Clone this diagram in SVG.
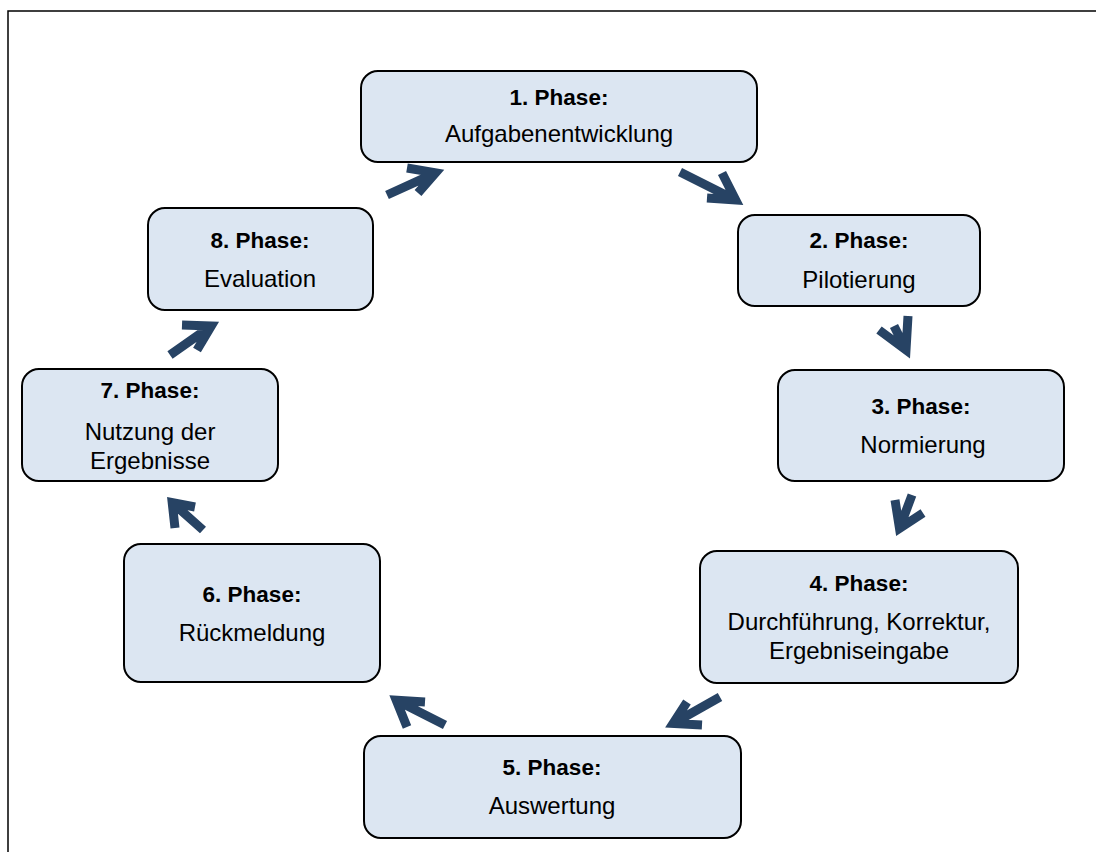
<svg xmlns="http://www.w3.org/2000/svg" width="1096" height="852" viewBox="0 0 1096 852">
  <style>
    .box { fill: #DCE6F2; stroke: #000000; stroke-width: 2; }
    .title { font-family: "Liberation Sans", Arial, sans-serif; font-size: 22.5px; font-weight: bold; fill: #000000; text-anchor: middle; }
    .body { font-family: "Liberation Sans", Arial, sans-serif; font-size: 24px; fill: #000000; text-anchor: middle; }
    .arrow { fill: none; stroke: #274364; stroke-width: 9; stroke-linejoin: miter; stroke-linecap: butt; stroke-miterlimit: 10; }
    .frame { fill: none; stroke: #000000; stroke-width: 1.5; }
  </style>

  <rect width="1096" height="852" fill="#FFFFFF"/>
  <path class="frame" d="M8,852 V11 H1096"/>

  <!-- Cycle connectors: open chevron arrows -->
  <g id="connectors">
    <path class="arrow" d="M707,198 L735.7,199.9 L722,173 M735.7,199.9 L680,172"/>
    <path class="arrow" d="M879,330 L906,350 L908,316 M906,350 L894,326"/>
    <path class="arrow" d="M895,500 L899.5,528.4 L923,513 M899.5,528.4 L912,495"/>
    <path class="arrow" d="M687,702 L673.1,723.5 L702,725 M673.1,723.5 L720,697"/>
    <path class="arrow" d="M425,702 L396.2,700.2 L407,727 M396.2,700.2 L445,725"/>
    <path class="arrow" d="M195,507 L172.2,502.6 L175,528 M172.2,502.6 L203,530"/>
    <path class="arrow" d="M182,325 L211.3,326 L197,350 M211.3,326 L170,355"/>
    <path class="arrow" d="M407,168 L435.6,172.9 L418,193 M435.6,172.9 L387,195"/>
  </g>

  <g id="phase1">
    <rect class="box" x="361" y="71" width="396" height="91" rx="17"/>
    <text class="title" x="559" y="105">1. Phase:</text>
    <text class="body" x="559" y="142">Aufgabenentwicklung</text>
  </g>

  <g id="phase2">
    <rect class="box" x="738" y="215" width="242" height="91" rx="17"/>
    <text class="title" x="859" y="248">2. Phase:</text>
    <text class="body" x="859" y="288">Pilotierung</text>
  </g>

  <g id="phase3">
    <rect class="box" x="778" y="370" width="286" height="111" rx="17"/>
    <text class="title" x="921" y="414">3. Phase:</text>
    <text class="body" x="923" y="453">Normierung</text>
  </g>

  <g id="phase4">
    <rect class="box" x="700" y="551" width="318" height="132" rx="17"/>
    <text class="title" x="859" y="591">4. Phase:</text>
    <text class="body" x="859" y="630">Durchführung, Korrektur,</text>
    <text class="body" x="859" y="659">Ergebniseingabe</text>
  </g>

  <g id="phase5">
    <rect class="box" x="364" y="736" width="377" height="102" rx="17"/>
    <text class="title" x="552" y="775">5. Phase:</text>
    <text class="body" x="552" y="814">Auswertung</text>
  </g>

  <g id="phase6">
    <rect class="box" x="124" y="544" width="256" height="138" rx="17"/>
    <text class="title" x="252" y="602">6. Phase:</text>
    <text class="body" x="252" y="641">Rückmeldung</text>
  </g>

  <g id="phase7">
    <rect class="box" x="22" y="369" width="256" height="112" rx="17"/>
    <text class="title" x="150" y="398">7. Phase:</text>
    <text class="body" x="150" y="440">Nutzung der</text>
    <text class="body" x="150" y="469">Ergebnisse</text>
  </g>

  <g id="phase8">
    <rect class="box" x="148" y="208" width="225" height="102" rx="17"/>
    <text class="title" x="260" y="248">8. Phase:</text>
    <text class="body" x="260" y="287">Evaluation</text>
  </g>
</svg>
